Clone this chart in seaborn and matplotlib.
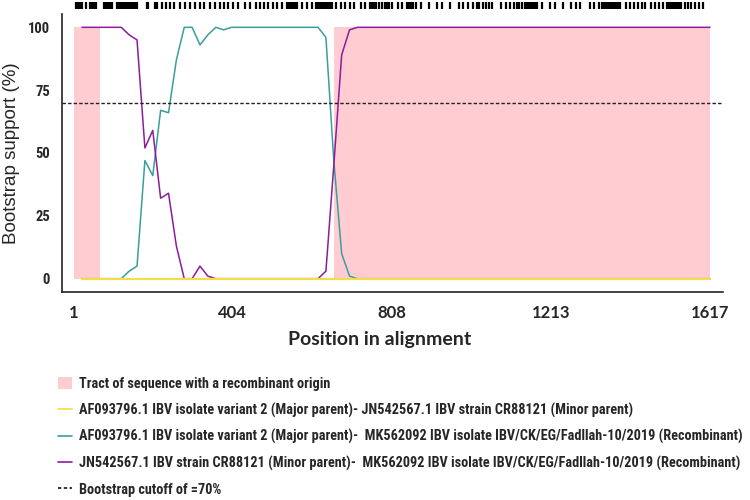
import numpy as np
import matplotlib
matplotlib.use("Agg")
import matplotlib.pyplot as plt
import seaborn as sns
from matplotlib.patches import Patch
from matplotlib.lines import Line2D

# breakpoints of each bootstrap curve (position, % support)
pos_minor_major = [21, 1617]
val_minor_major = [0, 0]

pos_major_rec = [21, 121, 141, 161, 181, 201, 221, 241, 261, 281, 301, 321, 341, 361,
                 381, 401, 621, 641, 661, 681, 701, 721, 1617]
val_major_rec = [0, 0, 3, 5, 47, 41, 67, 66, 87, 100, 100, 93, 97, 100,
                 99, 100, 100, 96, 47, 10, 1, 0, 0]

pos_minor_rec = [21, 121, 141, 161, 181, 201, 221, 241, 261, 281, 301, 321, 341, 361,
                 621, 641, 661, 681, 701, 721, 1617]
val_minor_rec = [100, 100, 97, 95, 52, 59, 32, 34, 13, 0, 0, 5, 1, 0,
                 0, 3, 45, 89, 99, 100, 100]

# recombinant tracts
tract_start = [1, 661]
tract_end = [67, 1617]

# informative sites drawn on top
sites = [6, 11, 16, 21, 31, 42, 47, 52, 57, 77, 82, 87, 92, 98, 110, 115, 120, 125, 131,
         136, 141, 146, 151, 156, 161, 186, 189, 207, 212, 225, 235, 245, 255, 270, 283,
         296, 308, 321, 331, 347, 359, 372, 382, 392, 405,
         418, 435, 448, 463, 474, 484, 494, 507, 517, 529, 542, 547, 552, 557, 562, 568,
         580, 593, 606, 616, 621, 626, 631, 636, 641, 646, 651, 656, 667, 679, 689, 702,
         712, 730, 740, 753, 758, 763, 768, 776, 783, 791, 796, 801,
         809, 824, 834, 847, 852, 857, 862, 870, 883, 903, 923, 936, 956, 979, 989, 1002,
         1015, 1025, 1030, 1040, 1048, 1055, 1063, 1086, 1099, 1109, 1119, 1127, 1132,
         1139, 1147, 1152, 1157, 1162, 1167, 1172, 1177, 1190, 1210,
         1223, 1243, 1264, 1276, 1287, 1312, 1322, 1335, 1342, 1348, 1353, 1358, 1363,
         1368, 1373, 1378, 1383, 1388, 1403, 1414, 1424, 1434, 1444, 1452, 1467, 1477,
         1487, 1497, 1508, 1513, 1518, 1523, 1528, 1533, 1538, 1543, 1553, 1561, 1568,
         1579, 1589, 1599]

xticks = [1, 404, 808, 1213, 1617]
yticks = [0, 25, 50, 75, 100]

labels = [
    "Tract of sequence with a recombinant origin",
    "AF093796.1 IBV isolate variant 2 (Major parent)- JN542567.1 IBV strain CR88121 (Minor parent)",
    "AF093796.1 IBV isolate variant 2 (Major parent)-  MK562092 IBV isolate IBV/CK/EG/Fadllah-10/2019 (Recombinant)",
    "JN542567.1 IBV strain CR88121 (Minor parent)-  MK562092 IBV isolate IBV/CK/EG/Fadllah-10/2019 (Recombinant)",
    "Bootstrap cutoff of =70%",
]

PINK = "#ffccd1"
YELLOW = "#f5dc4a"
TEAL = "#3a9e9c"
PURPLE = "#8c1c9c"

sns.set_style("white")
narrow = ["Roboto Condensed", "Liberation Sans Narrow", "Roboto"]
humanist = ["Lato", "Open Sans"]

fig = plt.figure(figsize=(7.5, 5), dpi=100)
ax = fig.add_axes([0.083, 0.416, 0.881, 0.556])

for s, e in zip(tract_start, tract_end):
    ax.fill_between([s, e], 0, 100, color=PINK, lw=0, zorder=1)

sns.lineplot(x=pos_major_rec, y=val_major_rec, color=TEAL, lw=1.1, ax=ax, zorder=3)
sns.lineplot(x=pos_minor_rec, y=val_minor_rec, color=PURPLE, lw=1.1, ax=ax, zorder=3)
sns.lineplot(x=pos_minor_major, y=val_minor_major, color=YELLOW, lw=1.6, ax=ax, zorder=4)
ax.axhline(70, color="#222222", lw=1.0, ls=(0, (2.5, 1.5)), zorder=5)

ax.set_xlim(-29, 1650)
ax.set_ylim(-5.3, 105.3)
ax.set_xticks(xticks)
ax.set_xticklabels([str(t) for t in xticks], family=humanist, fontweight="bold", fontsize=12)
ax.set_yticks(yticks)
ax.set_yticklabels([str(t) for t in yticks], family=narrow, fontweight="bold", fontsize=10.5)
ax.tick_params(axis="x", direction="in", length=5, width=1, color="#222222", pad=9)
ax.tick_params(axis="y", direction="out", length=3, width=1, color="#222222", pad=6)
ax.set_xlabel("Position in alignment", family=humanist, fontweight="bold", fontsize=14)
ax.xaxis.set_label_coords(0.48, -0.14)
ax.set_ylabel("Bootstrap support (%)", family="Liberation Sans", fontsize=13.5)
ax.yaxis.set_label_coords(-0.064, 0.5)
sns.despine(ax=ax)
for sp in ("left", "bottom"):
    ax.spines[sp].set_color("#222222")
    ax.spines[sp].set_linewidth(1.2)

# informative sites strip
top = fig.add_axes([0.083, 0.982, 0.881, 0.014], sharex=ax)
top.vlines(sites, 0, 1, color="black", lw=1.6)
top.set_ylim(0, 1)
top.axis("off")

handles = [
    Patch(facecolor=PINK, edgecolor="none"),
    Line2D([], [], color=YELLOW, lw=1.2),
    Line2D([], [], color=TEAL, lw=1.2),
    Line2D([], [], color=PURPLE, lw=1.2),
    Line2D([], [], color="black", lw=1.1, ls=(0, (2.2, 1.6))),
]
fig.legend(handles, labels, loc="upper left", bbox_to_anchor=(0.06, 0.272), frameon=False,
           handlelength=1.0, handleheight=0.9, handletextpad=0.45, labelspacing=0.82,
           prop={"family": narrow, "weight": "bold", "size": 10.3})

fig.savefig("out.png", dpi=100)
